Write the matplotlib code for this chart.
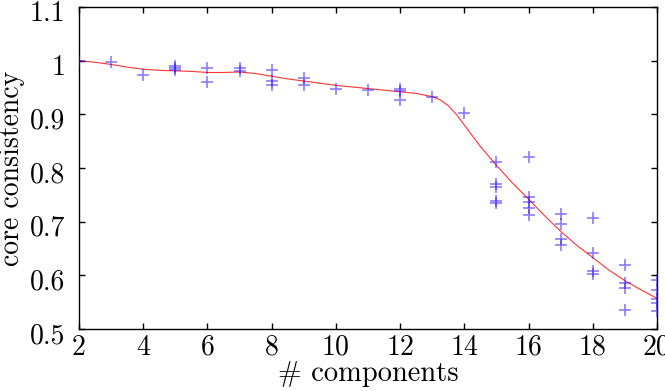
import numpy as np
import matplotlib
matplotlib.use("Agg")
import matplotlib.pyplot as plt
import matplotlib.transforms as mtransforms

plt.rcParams['font.family'] = 'serif'
plt.rcParams['font.serif'] = ['cmr10', 'DejaVu Serif']
plt.rcParams['mathtext.fontset'] = 'cm'

# scattered runs: (components, core consistency)
run_x = [2, 3, 4, 5, 5, 5, 6, 6, 7, 7, 8, 8, 8, 9, 9, 10, 11, 12, 12, 12, 13, 14,
         15, 15, 15, 15, 15, 16, 16, 16, 16, 16, 17, 17, 17, 17, 18, 18, 18, 18,
         19, 19, 19, 19, 20, 20, 20, 20, 20]
run_y = [1.0, 0.998, 0.974, 0.99, 0.986, 0.982, 0.987, 0.961, 0.986, 0.98,
         0.982, 0.962, 0.955, 0.968, 0.955, 0.948, 0.946, 0.947, 0.944, 0.926,
         0.933, 0.902,
         0.811, 0.77, 0.765, 0.738, 0.735,
         0.82, 0.746, 0.737, 0.726, 0.713,
         0.715, 0.696, 0.667, 0.657,
         0.706, 0.641, 0.609, 0.602,
         0.62, 0.585, 0.576, 0.535,
         0.591, 0.572, 0.556, 0.548, 0.533]

# fitted trend
fit_x = [2, 2.5, 3, 3.5, 4, 4.5, 5, 5.5, 6, 6.5, 7, 7.5, 8, 8.5, 9, 9.5, 10,
         10.5, 11, 11.5, 12, 12.5, 13, 13.25, 13.5, 13.75, 14, 14.25, 14.5, 15,
         15.5, 16, 16.5, 17, 17.5, 18, 18.5, 19, 19.5, 20]
fit_y = [1.0, 0.997, 0.993, 0.988, 0.984, 0.982, 0.981, 0.98, 0.978, 0.978,
         0.979, 0.976, 0.971, 0.966, 0.962, 0.958, 0.954, 0.951, 0.948, 0.945,
         0.942, 0.939, 0.933, 0.927, 0.916, 0.9, 0.88, 0.86, 0.84, 0.805,
         0.772, 0.742, 0.711, 0.682, 0.656, 0.633, 0.61, 0.59, 0.573, 0.557]

x_ticks = [2, 4, 6, 8, 10, 12, 14, 16, 18, 20]
y_ticks = [0.5, 0.6, 0.7, 0.8, 0.9, 1.0, 1.1]
y_labels = ['0.5', '0.6', '0.7', '0.8', '0.9', '1', '1.1']

fig = plt.figure(figsize=(6.65, 3.91), dpi=100)
ax = fig.add_axes([79 / 665, 62 / 391, 578 / 665, 322 / 391])

ax.plot(fit_x, fit_y, color='red', lw=0.8, alpha=0.8, zorder=2)
ax.plot(run_x, run_y, ls='none', marker='+', color='#3010ff', alpha=0.55,
        markersize=9, markeredgewidth=1.2, zorder=3)

ax.set_xlim(2, 20)
ax.set_ylim(0.5, 1.1)
ax.set_xticks(x_ticks)
ax.set_xticklabels([str(t) for t in x_ticks])
ax.set_yticks(y_ticks)
ax.set_yticklabels(y_labels)
ax.tick_params(direction='in', top=True, right=True, length=4.5, width=1,
               labelsize=20)
ax.tick_params(axis='y', pad=10)
ax.tick_params(axis='x', pad=4)
for s in ax.spines.values():
    s.set_linewidth(1.0)

# y tick labels sit a little below their ticks in the original
shift = mtransforms.ScaledTranslation(0, -4 / 100, fig.dpi_scale_trans)
for lab in ax.get_yticklabels():
    lab.set_transform(lab.get_transform() + shift)

ax.set_xlabel('# components', fontsize=20.5, labelpad=0)
ax.set_ylabel('core consistency', fontsize=20, labelpad=3)

fig.savefig('out.png', dpi=100)
